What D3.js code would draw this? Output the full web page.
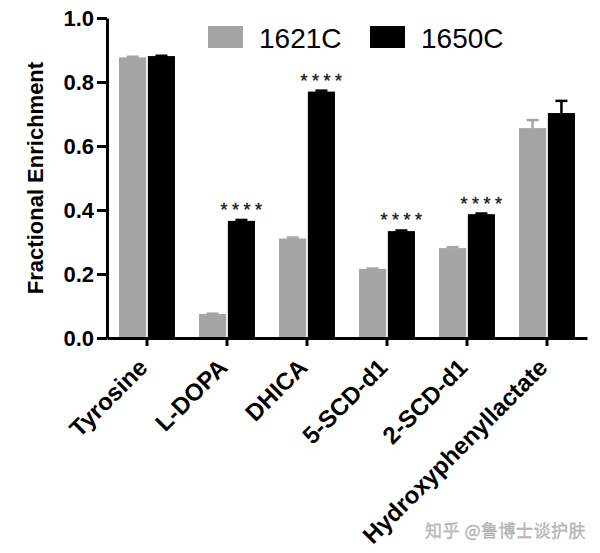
<!DOCTYPE html>
<html>
<head>
<meta charset="utf-8">
<script src="https://cdn.jsdelivr.net/npm/d3@7"></script>
<style>
  html, body { margin: 0; padding: 0; background: #fff; }
  svg { display: block; }
</style>
</head>
<body>
<svg id="chart" width="600" height="553"></svg>
<script>
'use strict';

// data
var categories = ['Tyrosine', 'L-DOPA', 'DHICA', '5-SCD-d1', '2-SCD-d1', 'Hydroxyphenyllactate']
var seriesNames = ['1621C', '1650C']
var values1621 = [0.877, 0.075, 0.311, 0.216, 0.281, 0.656]
var values1650 = [0.881, 0.366, 0.770, 0.334, 0.387, 0.703]
var errors1621 = [0.002, 0.001, 0.003, 0.001, 0.003, 0.025]
var errors1650 = [0.001, 0.003, 0.003, 0.002, 0.002, 0.038]
var significance = ['', '****', '****', '****', '****', '']
var yTicks = [0.0, 0.2, 0.4, 0.6, 0.8, 1.0]

var colors = { '1621C': '#a5a5a5', '1650C': '#000000' }
var font = 'Liberation Sans, Arial, sans-serif'

var svg = d3.select('#chart')
var axisX = 107
var axisY = 338

var x0 = d3.scaleBand()
    .domain(categories)
    .range([axisX, axisX + 480])
    .paddingInner(0.3)
    .paddingOuter(0.15)

var x1 = d3.scaleBand()
    .domain(seriesNames)
    .range([0, x0.bandwidth()])
    .paddingInner(0.06)

var y = d3.scaleLinear()
    .domain([0, 1])
    .range([axisY, 18])

var rows = categories.map(function(c, i) {
    return {
        cat: c,
        sig: significance[i],
        bars: [
            { name: '1621C', value: values1621[i], err: errors1621[i] },
            { name: '1650C', value: values1650[i], err: errors1650[i] }
        ]
    }
})

// bars
var groups = svg.append('g')
    .selectAll('g')
    .data(rows)
    .enter().append('g')
    .attr('transform', function(d) { return 'translate(' + x0(d.cat) + ',0)' })

groups.selectAll('rect')
    .data(function(d) { return d.bars })
    .enter().append('rect')
    .attr('x', function(d) { return x1(d.name) })
    .attr('y', function(d) { return y(d.value) })
    .attr('width', x1.bandwidth())
    .attr('height', function(d) { return y(0) - y(d.value) })
    .attr('fill', function(d) { return colors[d.name] })

// error bars (upper only)
var errs = groups.selectAll('g.err')
    .data(function(d) { return d.bars })
    .enter().append('g')
    .attr('class', 'err')
    .attr('stroke', function(d) { return colors[d.name] })
    .attr('stroke-width', 2.5)

errs.append('line')
    .attr('x1', function(d) { return x1(d.name) + x1.bandwidth() / 2 })
    .attr('x2', function(d) { return x1(d.name) + x1.bandwidth() / 2 })
    .attr('y1', function(d) { return y(d.value) })
    .attr('y2', function(d) { return y(d.value + d.err) })

errs.append('line')
    .attr('x1', function(d) { return x1(d.name) + x1.bandwidth() / 2 - 6 })
    .attr('x2', function(d) { return x1(d.name) + x1.bandwidth() / 2 + 6 })
    .attr('y1', function(d) { return y(d.value + d.err) })
    .attr('y2', function(d) { return y(d.value + d.err) })

// significance stars over the 1650C bar
groups.append('text')
    .attr('x', function(d) { return x1('1650C') + x1.bandwidth() / 2 + 2 })
    .attr('y', function(d) { return y(d.bars[1].value + d.bars[1].err) - 4 })
    .attr('text-anchor', 'middle')
    .attr('font-family', font)
    .attr('font-size', 18)
    .attr('letter-spacing', 4.5)
    .attr('fill', '#1a1a1a')
    .attr('stroke', '#1a1a1a')
    .attr('stroke-width', 0.4)
    .text(function(d) { return d.sig })

// y axis
var yAxis = svg.append('g')
    .attr('transform', 'translate(' + axisX + ',0)')
    .call(d3.axisLeft(y).tickValues(yTicks).tickFormat(d3.format('.1f')).tickSize(10).tickSizeOuter(0))

yAxis.select('.domain').attr('stroke-width', 3)
yAxis.selectAll('.tick line').attr('stroke-width', 3)
yAxis.selectAll('.tick text')
    .attr('x', -13)
    .attr('font-family', font)
    .attr('font-weight', 'bold')
    .attr('font-size', 22)
    .attr('fill', '#000')

// x axis
var xAxis = svg.append('g')
    .attr('transform', 'translate(0,' + axisY + ')')
    .call(d3.axisBottom(x0).tickSize(8).tickSizeOuter(0))

xAxis.select('.domain').attr('stroke-width', 3)
xAxis.selectAll('.tick line').attr('stroke-width', 3)
xAxis.selectAll('.tick text')
    .attr('font-family', font)
    .attr('font-weight', 'bold')
    .attr('font-size', 24)
    .attr('fill', '#000')
    .attr('text-anchor', 'end')
    .attr('dy', 0)
    .attr('y', 0)
    .attr('transform', 'translate(2,31) rotate(-45)')

// y title
svg.append('text')
    .attr('transform', 'translate(43,' + y(0.5) + ') rotate(-90)')
    .attr('text-anchor', 'middle')
    .attr('font-family', font)
    .attr('font-weight', 'bold')
    .attr('font-size', 22)
    .text('Fractional Enrichment')

// legend
var legend = svg.append('g')
    .selectAll('g')
    .data(seriesNames)
    .enter().append('g')
    .attr('transform', function(d, i) { return 'translate(' + (208 + i * 162) + ',26)' })

legend.append('rect')
    .attr('width', 35)
    .attr('height', 22)
    .attr('fill', function(d) { return colors[d] })

legend.append('text')
    .attr('x', 51)
    .attr('y', 22)
    .attr('font-family', font)
    .attr('font-size', 28)
    .text(function(d) { return d })

// watermark
svg.append('text')
    .attr('x', 586)
    .attr('y', 537)
    .attr('text-anchor', 'end')
    .attr('font-family', 'Noto Sans CJK SC, sans-serif')
    .attr('font-size', 17)
    .attr('letter-spacing', 0.5)
    .attr('fill', '#c4c4c4')
    .attr('stroke', '#999')
    .attr('stroke-width', 0.3)
    .text('知乎 @鲁博士谈护肤')
</script>
</body>
</html>
